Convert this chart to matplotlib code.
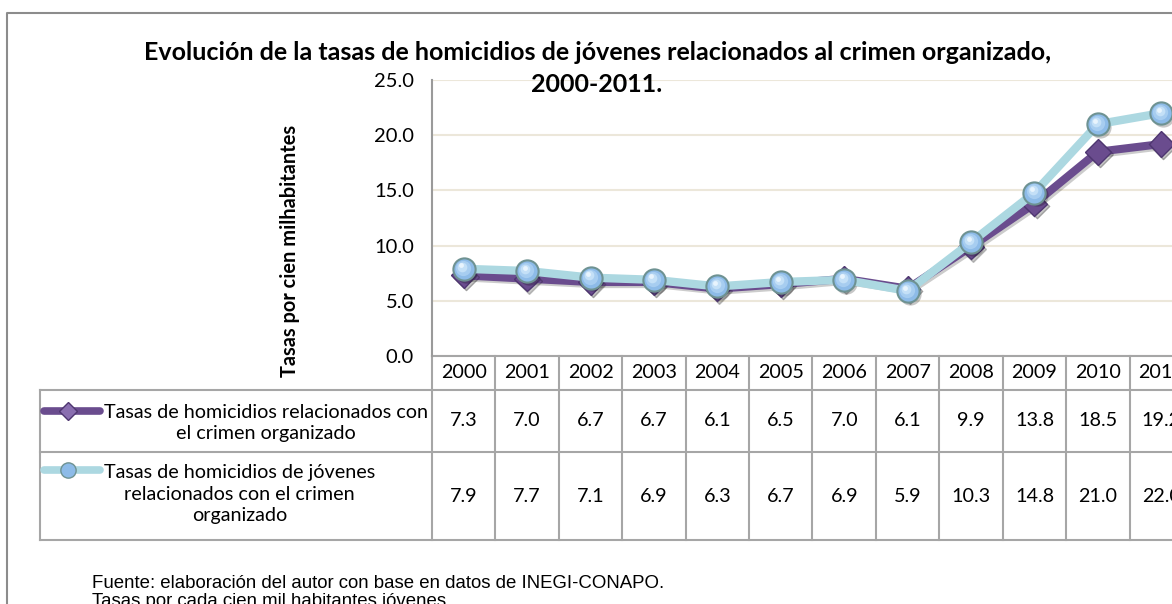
import matplotlib.pyplot as plt
import matplotlib.transforms as mtransforms
import matplotlib.patheffects as pe
from matplotlib.lines import Line2D

years = ['2000', '2001', '2002', '2003', '2004', '2005',
         '2006', '2007', '2008', '2009', '2010', '2011']
tasa_general = [7.3, 7.0, 6.7, 6.7, 6.1, 6.5, 7.0, 6.1, 9.9, 13.8, 18.5, 19.2]
tasa_jovenes = [7.9, 7.7, 7.1, 6.9, 6.3, 6.7, 6.9, 5.9, 10.3, 14.8, 21.0, 22.0]
y_ticks = [0, 5, 10, 15, 20, 25]

label_general = 'Tasas de homicidios relacionados con\nel crimen organizado'
label_jovenes = 'Tasas de homicidios de jóvenes\nrelacionados con el crimen\norganizado'

W, H = 1172, 604
PURPLE = '#6a4c8e'
PURPLE_EDGE = '#4e3670'
LIGHTBLUE = '#acd8e1'
SPHERE = '#8dbbe8'
SPHERE_EDGE = '#6e9292'
GRID = '#a6a6a6'
FONT = 'Lato'
FS = 14.2

plt.rcParams['font.family'] = [FONT, 'DejaVu Sans']

fig = plt.figure(figsize=(W / 100, H / 100), dpi=100)


def fx(px):
    return px / W


def fy(py):
    return 1 - py / H


# plot area: runs past the right edge of the canvas
left, right, top, bottom = 432, 1193, 80, 356
ax = fig.add_axes([fx(left), fy(bottom), fx(right - left), (bottom - top) / H])
x = list(range(len(years)))
ax.set_xlim(-0.5, len(years) - 0.5)
ax.set_ylim(0, 25)

line_shadow = [pe.SimpleLineShadow(offset=(1.5, -1.5), alpha=0.2), pe.Normal()]
drop = mtransforms.offset_copy(ax.transData, fig=fig, x=1.5, y=-2, units='points')

# drop shadows of the markers
ax.plot(x, tasa_general, ls='none', marker='D', ms=13, mfc='#000000', mec='none',
        alpha=0.22, transform=drop, zorder=2.5, clip_on=False)
ax.plot(x, tasa_jovenes, ls='none', marker='o', ms=16, mfc='#000000', mec='none',
        alpha=0.22, transform=drop, zorder=3.5, clip_on=False)

ax.plot(x, tasa_general, color=PURPLE, lw=5.8, solid_joinstyle='round',
        marker='D', ms=13, mfc=PURPLE, mec=PURPLE_EDGE, mew=1, zorder=3,
        path_effects=line_shadow, clip_on=False)
ax.plot(x, tasa_jovenes, color=LIGHTBLUE, lw=6, solid_joinstyle='round',
        marker='o', ms=16, mfc=SPHERE, mec=SPHERE_EDGE, mew=1.5, zorder=4,
        clip_on=False)

# soft highlight on the spheres
for k, (size, col) in enumerate([(11, '#a7cdf0'), (7, '#c4e0f7'), (3.5, '#e8f4fd')]):
    off = mtransforms.offset_copy(ax.transData, fig=fig, x=-0.6 * (k + 1), y=0.8 * (k + 1), units='points')
    ax.plot(x, tasa_jovenes, ls='none', marker='o', ms=size, mfc=col, mec='none',
            transform=off, zorder=5, clip_on=False)

ax.set_yticks(y_ticks)
ax.set_yticklabels([f'{v:.1f}' for v in y_ticks], fontsize=14.5)
ax.tick_params(axis='y', length=0, pad=13)
ax.set_xticks([])
ax.grid(axis='y', color='#ece7da', lw=1.5)
ax.set_axisbelow(True)
for s in ['top', 'right', 'bottom']:
    ax.spines[s].set_visible(False)
ax.spines['left'].set_color('#9a9a9a')
ax.spines['left'].set_linewidth(1.5)

# data table under the axis, columns follow the x scale
tr = mtransforms.blended_transform_factory(ax.transData, fig.transFigure)
rows_px = [356, 390, 452, 540]
for yp in rows_px:
    x0 = -0.5 if yp == 356 else -0.5 - (left - 40) / ((right - left) / len(years))
    ax.plot([x0, len(years) - 0.5], [fy(yp)] * 2, color=GRID, lw=1.5,
            transform=tr, clip_on=False)
for i in range(len(years) + 1):
    ax.plot([i - 0.5] * 2, [fy(356), fy(540)], color=GRID, lw=1.5,
            transform=tr, clip_on=False)
fig.add_artist(Line2D([fx(40)] * 2, [fy(390), fy(540)], color=GRID, lw=1.5))

for i, yr in enumerate(years):
    ax.text(i, fy(373), yr, transform=tr, ha='center', va='center', fontsize=FS)
    ax.text(i, fy(421), f'{tasa_general[i]:.1f}', transform=tr, ha='center', va='center', fontsize=FS)
    ax.text(i, fy(496), f'{tasa_jovenes[i]:.1f}', transform=tr, ha='center', va='center', fontsize=FS)

# legend keys inside the table
fig.add_artist(Line2D([fx(44), fx(100)], [fy(411)] * 2, color=PURPLE, lw=5.5, solid_capstyle='round'))
fig.add_artist(Line2D([fx(68)], [fy(411)], ls='none', marker='D', ms=9, mfc='#8a6fb0', mec=PURPLE_EDGE))
fig.add_artist(Line2D([fx(44), fx(100)], [fy(470)] * 2, color=LIGHTBLUE, lw=5.5, solid_capstyle='round'))
fig.add_artist(Line2D([fx(68)], [fy(470)], ls='none', marker='o', ms=11, mfc=SPHERE, mec=SPHERE_EDGE))
fig.text(fx(104), fy(423), label_general, ha='left', va='center', ma='center',
         fontsize=FS, linespacing=1.32)
fig.text(fx(104), fy(494), label_jovenes, ha='left', va='center', ma='center',
         fontsize=FS, linespacing=1.32)

# titles
fig.text(fx(598), fy(52), 'Evolución de la tasas de homicidios de jóvenes relacionados al crimen organizado,',
         ha='center', va='center', fontsize=18, fontweight='bold')
fig.text(fx(597), fy(85), '2000-2011.', ha='center', va='center', fontsize=18, fontweight='bold')
fig.text(fx(290), fy(251), 'Tasas por cien milhabitantes', rotation=90, ha='center', va='center',
         fontsize=14.4, fontweight='bold')

# source notes
fig.text(fx(92), fy(583), 'Fuente: elaboración del autor con base en datos de INEGI-CONAPO.',
         ha='left', va='center', fontsize=13.4, family='Liberation Sans')
fig.text(fx(92), fy(601), 'Tasas por cada cien mil habitantes jóvenes.',
         ha='left', va='center', fontsize=13.4, family='Liberation Sans')

# outer frame of the chart
fig.add_artist(Line2D([fx(7), fx(7), fx(W + 5)], [fy(H + 5), fy(13), fy(13)], color='#8c8c8c', lw=1.5))

fig.savefig('out.png', dpi=100)
